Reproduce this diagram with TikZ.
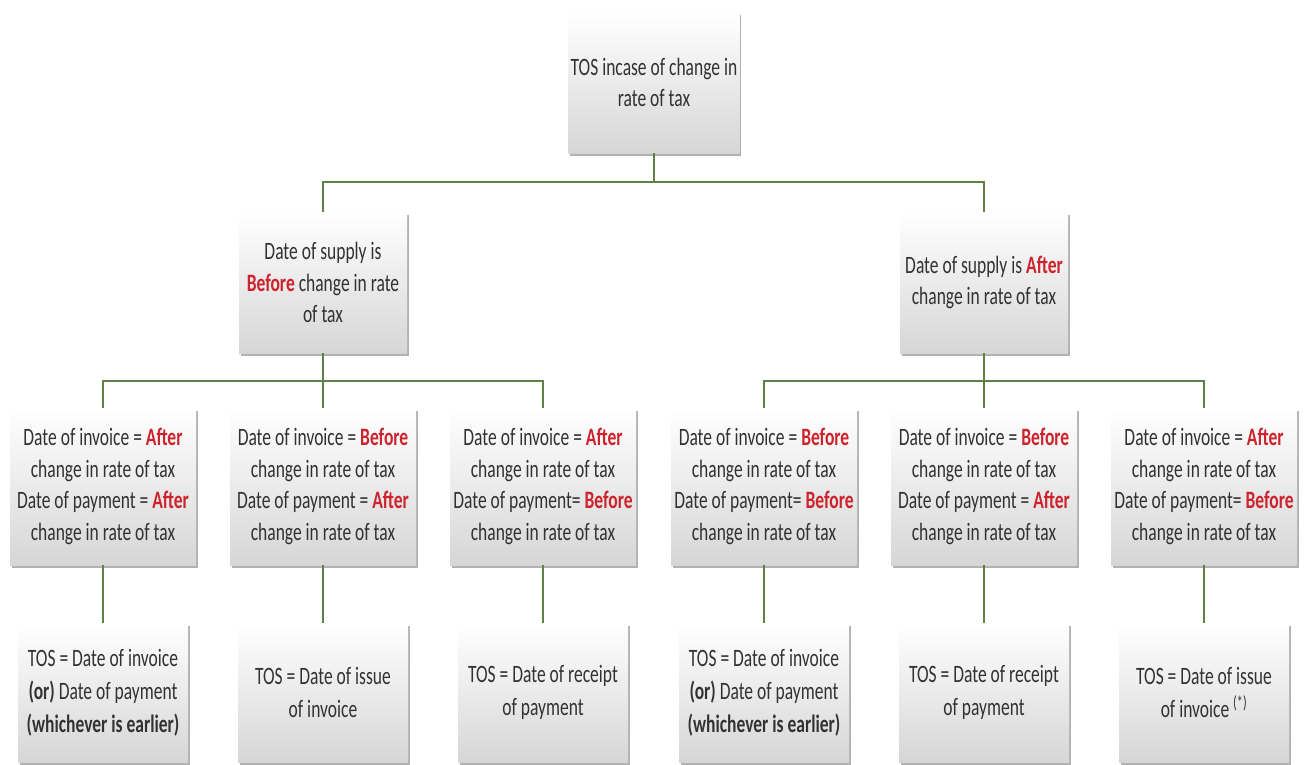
\documentclass[tikz,border=0pt]{standalone}
\usepackage{fontspec}
\setmainfont{Carlito}[FakeStretch=0.7]
\usetikzlibrary{shadows}
\definecolor{txtc}{RGB}{50,50,50}
\definecolor{redw}{RGB}{205,35,45}
\definecolor{connc}{RGB}{95,128,70}
\newcommand{\hlw}[1]{\textbf{\textcolor{redw}{#1}}}
\begin{document}
\begin{tikzpicture}[x=1pt,y=-1pt,
  box/.style={inner sep=2pt, align=center, text=txtc,
    font=\fontsize{25}{31.5}\selectfont,
    top color=white, middle color=white, bottom color=black!16,
    drop shadow={shadow xshift=1.5pt, shadow yshift=-3pt, opacity=0.3, fill=black}},
  topbox/.style={box, minimum width=168pt, minimum height=141pt},
  midbox/.style={box, minimum width=168pt, minimum height=141pt},
  condbox/.style={box, minimum width=186pt, minimum height=157pt},
  resbox/.style={box, minimum width=170pt, minimum height=139pt, font=\fontsize{25}{33}\selectfont},
  conn/.style={draw=connc, line width=1.3pt}]
\useasboundingbox (0,0) rectangle (1304,764);
\fill[white] (0,0) rectangle (1304,764);

% top
\node[topbox] (top) at (654,82.5) {TOS incase of change in\\rate of tax};

% level 2
\node[midbox] (l2a) at (323,282.5) {Date of supply is\\\hlw{Before} change in rate\\of tax};
\node[midbox] (l2b) at (984,282.5) {Date of supply is \hlw{After}\\change in rate of tax};

% level 3
\node[condbox] (c1) at (103,486.5) {Date of invoice = \hlw{After}\\change in rate of tax\\Date of payment = \hlw{After}\\change in rate of tax};
\node[condbox] (c2) at (323,486.5) {Date of invoice = \hlw{Before}\\change in rate of tax\\Date of payment = \hlw{After}\\change in rate of tax};
\node[condbox] (c3) at (543,486.5) {Date of invoice = \hlw{After}\\change in rate of tax\\Date of payment= \hlw{Before}\\change in rate of tax};
\node[condbox] (c4) at (764,486.5) {Date of invoice = \hlw{Before}\\change in rate of tax\\Date of payment= \hlw{Before}\\change in rate of tax};
\node[condbox] (c5) at (984,486.5) {Date of invoice = \hlw{Before}\\change in rate of tax\\Date of payment = \hlw{After}\\change in rate of tax};
\node[condbox] (c6) at (1204,486.5) {Date of invoice = \hlw{After}\\change in rate of tax\\Date of payment= \hlw{Before}\\change in rate of tax};

% level 4
\node[resbox] (r1) at (103,692.5) {TOS = Date of invoice\\\textbf{(or)} Date of payment\\\textbf{(whichever is earlier)}};
\node[resbox] (r2) at (323,692.5) {TOS = Date of issue\\of invoice};
\node[resbox] (r3) at (543,692.5) {TOS = Date of receipt\\of payment};
\node[resbox] (r4) at (764,692.5) {TOS = Date of invoice\\\textbf{(or)} Date of payment\\\textbf{(whichever is earlier)}};
\node[resbox] (r5) at (984,692.5) {TOS = Date of receipt\\of payment};
\node[resbox] (r6) at (1204,692.5) {TOS = Date of issue\\of invoice \textsuperscript{(*)}};

% bus coordinates
\coordinate (bus1) at (0,182);
\coordinate (bus2) at (0,381);

% connectors
\draw[conn] (top.south) -- (top.south |- bus1);
\draw[conn] (l2a.north) -- (l2a.north |- bus1) -- (l2b.north |- bus1) -- (l2b.north);

\draw[conn] (l2a.south) -- (c2.north);
\draw[conn] (c1.north) -- (c1.north |- bus2) -- (c3.north |- bus2) -- (c3.north);

\draw[conn] (l2b.south) -- (c5.north);
\draw[conn] (c4.north) -- (c4.north |- bus2) -- (c6.north |- bus2) -- (c6.north);

\draw[conn] (c1.south) -- (r1.north);
\draw[conn] (c2.south) -- (r2.north);
\draw[conn] (c3.south) -- (r3.north);
\draw[conn] (c4.south) -- (r4.north);
\draw[conn] (c5.south) -- (r5.north);
\draw[conn] (c6.south) -- (r6.north);
\end{tikzpicture}
\end{document}
